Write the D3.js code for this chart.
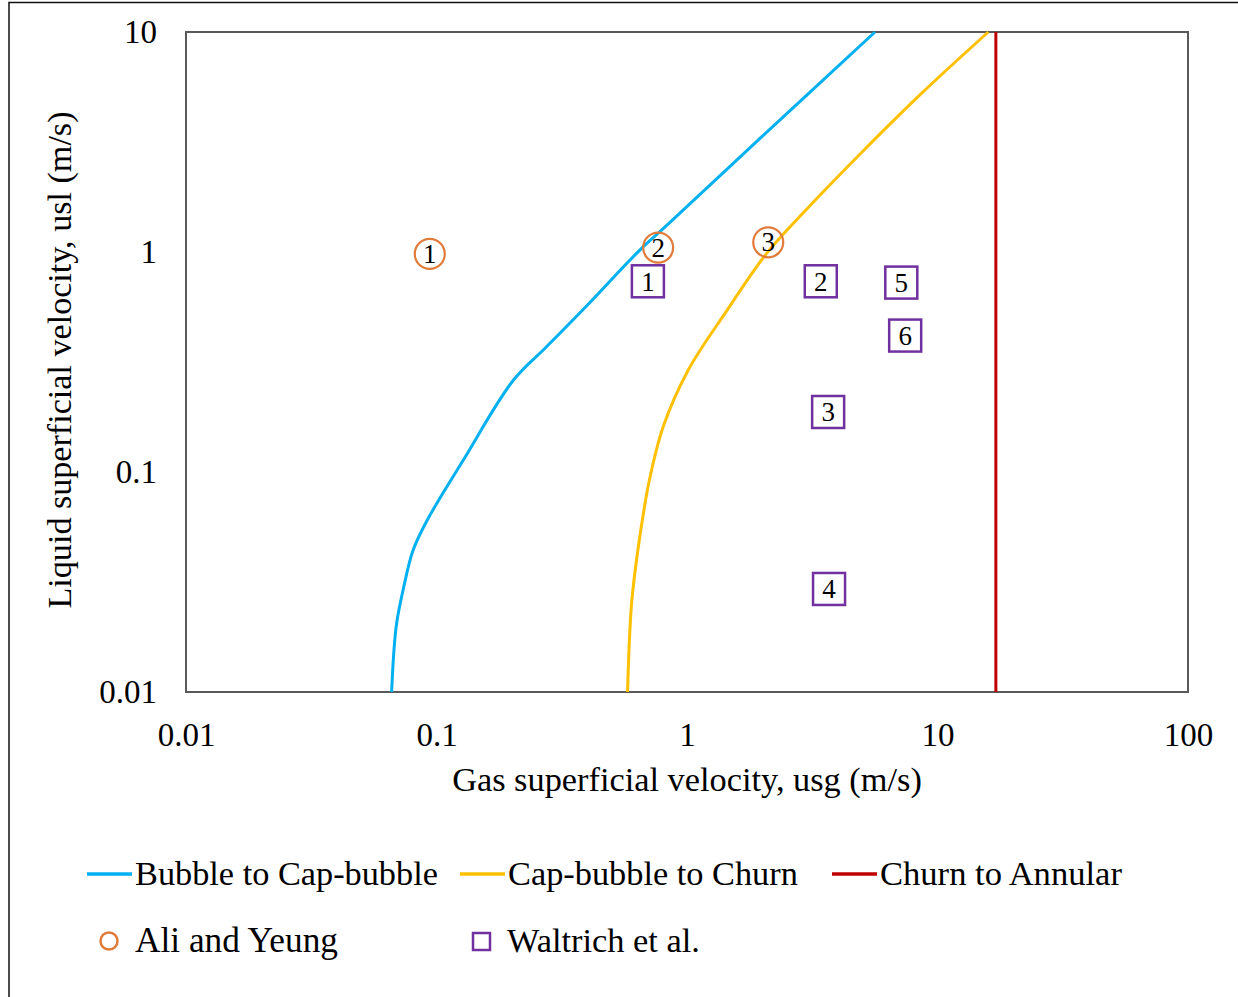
<!DOCTYPE html>
<html><head><meta charset="utf-8">
<script src="https://cdn.jsdelivr.net/npm/d3@7"></script>
<style>body{margin:0;background:#fff}svg{display:block}</style>
</head><body><svg id="c" width="1238" height="997"></svg>
<script>
const xTicks = [0.01, 0.1, 1, 10, 100];
const xTickLabels = ["0.01", "0.1", "1", "10", "100"];
const yTicks = [0.01, 0.1, 1, 10];
const yTickLabels = ["0.01", "0.1", "1", "10"];

const bubbleX = [0.0662, 0.0675, 0.0693, 0.0740, 0.0807, 0.0927, 0.128, 0.203, 0.275, 0.398, 0.648, 0.830, 2.0, 5.63];
const bubbleY = [0.01, 0.015, 0.0205, 0.030, 0.0442, 0.0616, 0.1134, 0.262, 0.371, 0.570, 1.02, 1.32, 3.36, 10];

const capX = [0.579, 0.601, 0.648, 0.708, 0.804, 1.012, 1.44, 2.08, 2.90, 5.0, 8.51, 15.95];
const capY = [0.01, 0.0253, 0.0508, 0.092, 0.161, 0.291, 0.540, 0.986, 1.50, 2.85, 5.18, 10];

const churnX = [17.1, 17.1];
const churnY = [0.01, 10];

const aliX = [0.094, 0.767, 2.11];
const aliY = [0.98, 1.046, 1.107];
const aliLabels = ["1", "2", "3"];

const waltX = [0.698, 3.42, 3.66, 3.69, 7.17, 7.43];
const waltY = [0.736, 0.736, 0.1874, 0.0294, 0.726, 0.417];
const waltLabels = ["1", "2", "3", "4", "5", "6"];

const seriesNames = ["Bubble to Cap-bubble", "Cap-bubble to Churn", "Churn to Annular"];
const seriesColors = ["#00B0F0", "#FFC000", "#C00000"];
const markerNames = ["Ali and Yeung", "Waltrich et al."];

const FONT = '"Liberation Serif"';
const svg = d3.select("#c");
const L = 186, R = 1188, T = 32, B = 692;
const x = d3.scaleLog().domain([0.01, 100]).range([L, R]);
const y = d3.scaleLog().domain([0.01, 10]).range([B, T]);

function styleText(sel, size){ return sel.style("font-family", FONT).style("font-size", size + "px").attr("fill", "#000"); }
function fit(sel, target){
  const n = sel.node().getComputedTextLength();
  const s = parseFloat(sel.style("font-size"));
  sel.style("font-size", (s * target / n).toFixed(2) + "px");
  return sel;
}

// outer frame (partial)
svg.append("path").attr("d", "M9,997 V2.5 H1238").attr("fill","none").attr("stroke","#111").attr("stroke-width",1.5);

// plot border
svg.append("rect").attr("x",L).attr("y",T).attr("width",R-L).attr("height",B-T)
  .attr("fill","none").attr("stroke","#595959").attr("stroke-width",2);

// axes
const xAxis = d3.axisBottom(x).tickValues(xTicks).tickFormat((d,i)=>xTickLabels[i]).tickSize(0).tickPadding(0);
const gx = svg.append("g").attr("transform",`translate(0,${B})`).call(xAxis);
gx.select(".domain").remove();
gx.attr("font-family", null).attr("font-size", null);
styleText(gx.selectAll("text"), 33).attr("y", 43).attr("dy", "0.32em");

const yAxis = d3.axisLeft(y).tickValues(yTicks).tickFormat((d,i)=>yTickLabels[i]).tickSize(0).tickPadding(0);
const gy = svg.append("g").attr("transform",`translate(${L},0)`).call(yAxis);
gy.select(".domain").remove();
gy.attr("font-family", null).attr("font-size", null);
styleText(gy.selectAll("text"), 33).attr("x", -29).attr("dy", "0.32em");

// axis titles
fit(styleText(svg.append("text").attr("x",687).attr("y",780).attr("dy","0.32em").attr("text-anchor","middle"), 33)
  .text("Gas superficial velocity, usg (m/s)"), 470);
fit(styleText(svg.append("text").attr("transform","translate(60,360) rotate(-90)").attr("dy","0.32em").attr("text-anchor","middle"), 33)
  .text("Liquid superficial velocity, usl (m/s)"), 497);

// lines
svg.append("clipPath").attr("id","pc").append("rect").attr("x",L).attr("y",T-2).attr("width",R-L).attr("height",B-T+2);
const line = d3.line().x(d=>x(d[0])).y(d=>y(d[1])).curve(d3.curveCatmullRom.alpha(0.5));
const series = [d3.zip(bubbleX,bubbleY), d3.zip(capX,capY), d3.zip(churnX,churnY)];
series.forEach((s,i)=>{
  svg.append("path").datum(s).attr("d", line).attr("fill","none")
    .attr("stroke",seriesColors[i]).attr("stroke-width",3).attr("stroke-linejoin","round").attr("clip-path","url(#pc)");
});

// Ali and Yeung circles
const ali = svg.append("g");
d3.range(aliX.length).forEach(i=>{
  const cx = x(aliX[i]), cy = y(aliY[i]);
  ali.append("circle").attr("cx",cx).attr("cy",cy).attr("r",15).attr("fill","none").attr("stroke","#E07B39").attr("stroke-width",2.2);
  styleText(ali.append("text").attr("x",cx).attr("y",cy).attr("dy","0.34em").attr("text-anchor","middle"), 27).text(aliLabels[i]);
});

// Waltrich squares
const w = svg.append("g");
d3.range(waltX.length).forEach(i=>{
  const cx = x(waltX[i]), cy = y(waltY[i]);
  w.append("rect").attr("x",cx-16).attr("y",cy-16).attr("width",32).attr("height",32).attr("fill","none").attr("stroke","#7030A0").attr("stroke-width",2.5);
  styleText(w.append("text").attr("x",cx).attr("y",cy).attr("dy","0.35em").attr("text-anchor","middle"), 27).text(waltLabels[i]);
});

// legend
const legLineX = [87, 460, 832];
const legWidths = [303, 290, 242];
seriesNames.forEach((n,i)=>{
  svg.append("line").attr("x1",legLineX[i]).attr("x2",legLineX[i]+45).attr("y1",874).attr("y2",874)
    .attr("stroke",seriesColors[i]).attr("stroke-width",3.5);
  fit(styleText(svg.append("text").attr("x",legLineX[i]+48).attr("y",874).attr("dy","0.32em"), 33).text(n), legWidths[i]);
});
svg.append("circle").attr("cx",109).attr("cy",941).attr("r",8.5).attr("fill","none").attr("stroke","#E07B39").attr("stroke-width",2.5);
fit(styleText(svg.append("text").attr("x",135).attr("y",941).attr("dy","0.32em"), 33).text(markerNames[0]), 203);
svg.append("rect").attr("x",473).attr("y",933).attr("width",17).attr("height",17).attr("fill","none").attr("stroke","#7030A0").attr("stroke-width",2.5);
fit(styleText(svg.append("text").attr("x",507).attr("y",941).attr("dy","0.32em"), 33).text(markerNames[1]), 193);
</script></body></html>
